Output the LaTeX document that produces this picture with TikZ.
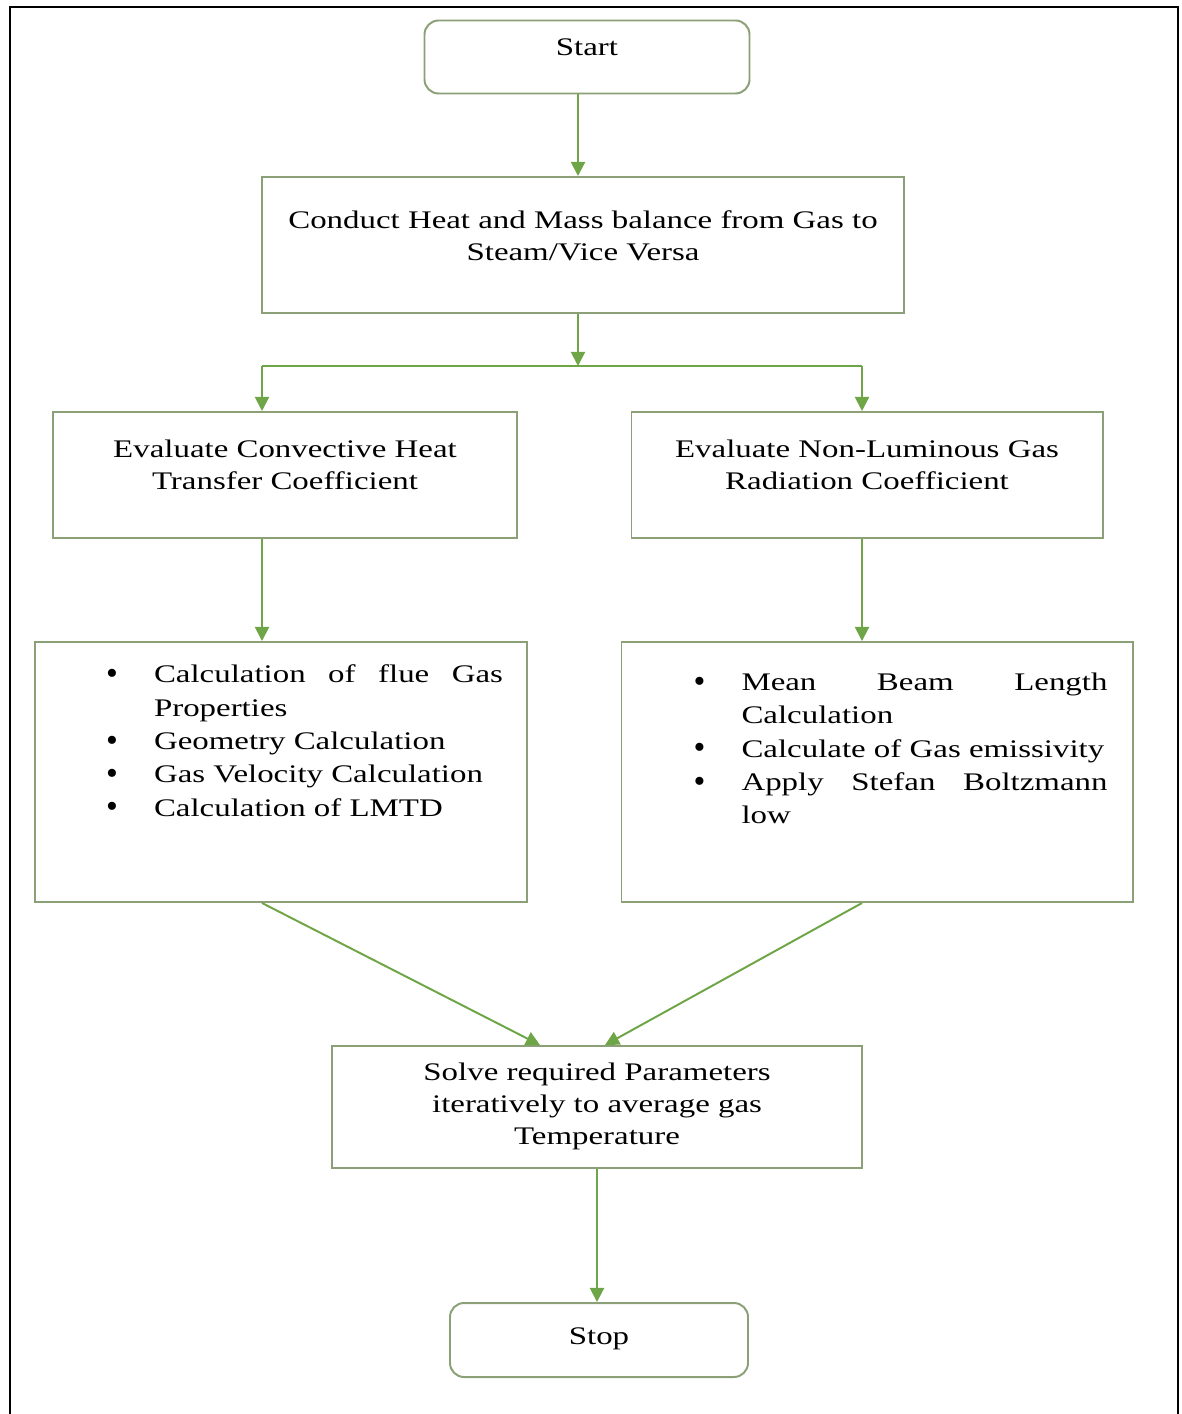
\documentclass[tikz,border=0pt]{standalone}
\usepackage{fontspec}
\setmainfont{Liberation Serif}[FakeStretch=1.3]
\newfontfamily\bulletfont{Liberation Serif}
\usetikzlibrary{arrows.meta}

\newlength\pxu
\setlength\pxu{0.0125cm}
\definecolor{boxline}{RGB}{140,160,120}
\definecolor{flowgreen}{RGB}{110,165,70}
\hbadness=10000

% depth strut to lift the text a little inside its box
\newcommand{\dropstrut}[1]{\rule[-#1]{0pt}{#1}}
% bullet item with hanging indent
\newcommand{\bigbullet}{{\bulletfont\fontsize{12}{12}\selectfont\raisebox{-0.6pt}{\textbullet}}}
\newcommand{\bitem}[1]{\par\noindent\hangindent=48\pxu\hangafter=1\makebox[48\pxu][l]{\bigbullet}#1}
% top aligned, justified bullet list: height, width, items
\newcommand{\blist}[3]{\parbox[c][#1][t]{#2}{\fontsize{9}{11.85}\selectfont\leftskip=47\pxu #3\par}}

\begin{document}
\begin{tikzpicture}[
        x=\pxu, y=-\pxu,
        every node/.style={font=\fontsize{9}{11.4}\selectfont},
        listbox/.style={rectangle, draw=boxline, line width=0.7pt, inner sep=0pt},
        flowbox/.style={listbox, align=center},
        termbox/.style={flowbox, rounded corners=5pt},
        flowline/.style={draw=flowgreen, line width=0.7pt},
        flowarrow/.style={flowline, -{Triangle[width=5pt,length=5pt]}}
        ]

        \useasboundingbox (0,0) rectangle (1181,1414);
        % page frame
        \draw[line width=1pt] (10,1414) -- (10,7) -- (1178,7) -- (1178,1414);

        % Boxes
        \node[termbox, minimum width=325\pxu, minimum height=73\pxu] (start) at (587,57) {Start\dropstrut{7pt}};
        \node[flowbox, minimum width=642\pxu, minimum height=136\pxu] (balance) at (583,245)
            {Conduct Heat and Mass balance from Gas to\\Steam/Vice Versa\dropstrut{6.7pt}};
        \node[flowbox, minimum width=464\pxu, minimum height=126\pxu] (convect) at (285,475)
            {Evaluate Convective Heat\\Transfer Coefficient\dropstrut{7pt}};
        \node[flowbox, minimum width=471\pxu, minimum height=126\pxu] (radiate) at (867,475)
            {Evaluate Non-Luminous Gas\\Radiation Coefficient\dropstrut{7.4pt}};
        \node[listbox, minimum width=492\pxu, minimum height=260\pxu] (convlist) at (281,772)
            {\blist{214\pxu}{444\pxu}{%
                \bitem{Calculation of flue Gas\linebreak Properties}
                \bitem{Geometry Calculation}
                \bitem{Gas Velocity Calculation}
                \bitem{Calculation of LMTD}}};
        \node[listbox, minimum width=511\pxu, minimum height=260\pxu] (radlist) at (877,772)
            {\blist{198\pxu}{461\pxu}{%
                \bitem{Mean Beam Length\linebreak Calculation}
                \bitem{Calculate of Gas emissivity}
                \bitem{Apply Stefan Boltzmann\linebreak low}}};
        \node[flowbox, minimum width=530\pxu, minimum height=122\pxu] (solve) at (597,1107)
            {Solve required Parameters\\iteratively to average gas\\Temperature\dropstrut{2.2pt}};
        \node[termbox, minimum width=298\pxu, minimum height=74\pxu] (stop) at (599,1340) {Stop\dropstrut{2.5pt}};

        % Connector positions
        \coordinate (spine) at (578,0);
        \coordinate (split) at (578,366);
        \coordinate (leftx) at (262,0);
        \coordinate (rightx) at (862,0);
        \coordinate (mergeleft) at (540,0);
        \coordinate (mergeright) at (605,0);
        \coordinate (tail) at (597,0);

        % Connectors
        \draw[flowarrow] (start.south -| spine) -- (balance.north -| spine);
        \draw[flowarrow] (balance.south -| spine) -- (split);
        \draw[flowline] (split -| leftx) -- (split -| rightx);
        \draw[flowarrow] (split -| leftx) -- (convect.north -| leftx);
        \draw[flowarrow] (split -| rightx) -- (radiate.north -| rightx);
        \draw[flowarrow] (convect.south -| leftx) -- (convlist.north -| leftx);
        \draw[flowarrow] (radiate.south -| rightx) -- (radlist.north -| rightx);
        \draw[flowarrow] (convlist.south -| leftx) -- (solve.north -| mergeleft);
        \draw[flowarrow] (radlist.south -| rightx) -- (solve.north -| mergeright);
        \draw[flowarrow] (solve.south -| tail) -- (stop.north -| tail);

    \end{tikzpicture}
\end{document}
